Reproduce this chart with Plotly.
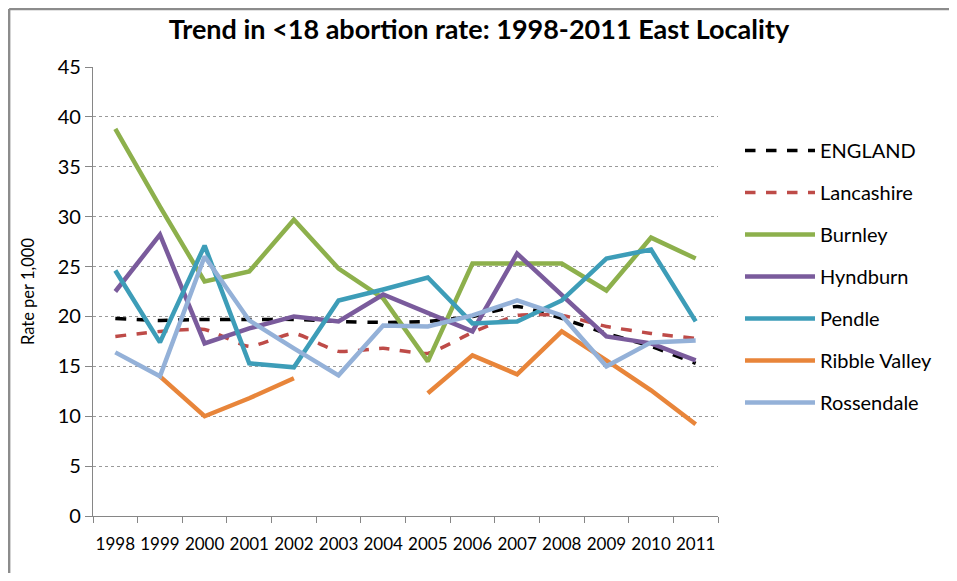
import plotly.graph_objects as go

years = ["1998", "1999", "2000", "2001", "2002", "2003", "2004",
         "2005", "2006", "2007", "2008", "2009", "2010", "2011"]

england = [19.8, 19.6, 19.7, 19.7, 19.7, 19.5, 19.4, 19.5, 20.0, 21.0, 19.8, 18.3, 17.0, 15.3]
lancashire = [18.0, 18.5, 18.7, 17.0, 18.3, 16.5, 16.8, 16.3, 18.4, 20.1, 20.1, 19.0, 18.3, 17.8]
burnley = [38.8, 31.0, 23.5, 24.5, 29.7, 24.8, 21.8, 15.5, 25.3, 25.3, 25.3, 22.6, 27.9, 25.8]
hyndburn = [22.5, 28.2, 17.3, 18.8, 20.0, 19.5, 22.2, 20.4, 18.5, 26.3, 22.1, 18.0, 17.3, 15.6]
pendle = [24.6, 17.4, 27.1, 15.3, 14.9, 21.6, 22.7, 23.9, 19.3, 19.5, 21.6, 25.8, 26.7, 19.5]
ribble_valley = [None, 14.0, 10.0, 11.8, 13.8, None, None, 12.3, 16.1, 14.2, 18.5, 15.6, 12.6, 9.2]
rossendale = [16.4, 14.0, 26.0, 19.6, 16.8, 14.1, 19.1, 19.0, 20.1, 21.6, 20.1, 15.0, 17.4, 17.6]

y_ticks = [0, 5, 10, 15, 20, 25, 30, 35, 40, 45]

series = [
    ("ENGLAND", england, "#000000", "dash", 3.5, True),
    ("Lancashire", lancashire, "#BE4B48", "dash", 3.5, True),
    ("Burnley", burnley, "#8DB04C", "solid", 4.5, False),
    ("Hyndburn", hyndburn, "#7A5B9C", "solid", 4.5, False),
    ("Pendle", pendle, "#3D9DB8", "solid", 4.5, False),
    ("Ribble Valley", ribble_valley, "#E8853A", "solid", 4.5, False),
    ("Rossendale", rossendale, "#94B1D8", "solid", 4.5, False),
]

FONT = "Lato"

# page body has an 8px margin: figure is placed at (8, 8); keep it inside the window
W, H = 941, 565
PL, PT, PR, PB = 85, 59, 711, 508   # plot area in figure pixels

fig = go.Figure()
for i, (name, vals, color, dash, w, smooth) in enumerate(series):
    fig.add_trace(go.Scatter(
        x=years, y=vals, name=name, mode="lines",
        line=dict(color=color, dash=dash, width=w,
                  shape="spline" if smooth else "linear",
                  smoothing=0.5 if smooth else None),
        connectgaps=False, legendgroup=str(i),
    ))

fig.update_layout(
    width=W, height=H,
    margin=dict(l=PL, r=W - PR, t=PT, b=H - PB),
    paper_bgcolor="white", plot_bgcolor="white",
    font=dict(family=FONT, color="#000000"),
    title=dict(text="<b>Trend in &lt;18 abortion rate: 1998-2011 East Locality</b>",
               x=(479 - 8) / W, xref="container", xanchor="center",
               y=1 - 22 / H, yref="container", yanchor="middle",
               font=dict(family=FONT, size=27, color="#000000")),
    showlegend=True,
    legend=dict(x=(732 - PL) / (PR - PL), xanchor="left",
                y=1 - (123 - PT) / (PB - PT), yanchor="top",
                font=dict(family=FONT, size=20, color="#000000"),
                tracegroupgap=13, itemwidth=70,
                bgcolor="rgba(0,0,0,0)"),
)

fig.update_xaxes(
    type="category", range=[-0.5, 13.5],
    showline=True, linecolor="#868686", linewidth=1.3,
    ticks="outside", tickson="boundaries", ticklen=6, tickcolor="#868686",
    showgrid=False, tickangle=0, ticklabelstandoff=12,
    tickfont=dict(family=FONT, size=17, color="#000000"),
    fixedrange=True,
)
fig.update_yaxes(
    range=[0, 45], tickvals=y_ticks,
    showline=True, linecolor="#868686", linewidth=1.3,
    ticks="outside", ticklen=7, tickcolor="#868686",
    showgrid=True, gridcolor="#9A9A9A", griddash="dot", gridwidth=1,
    zeroline=False,
    tickfont=dict(family=FONT, size=20, color="#000000"),
    title=dict(text="Rate per 1,000", font=dict(family=FONT, size=16.5, color="#000000"),
               standoff=18),
)

# chart outer border (top and left edges visible in the source image)
fig.add_shape(type="line", xref="paper", yref="paper",
              x0=-(PL - 1) / (PR - PL), x1=1.5,
              y0=1 + (PT - 1) / (PB - PT), y1=1 + (PT - 1) / (PB - PT),
              line=dict(color="#8C8C8C", width=2.5))
fig.add_shape(type="line", xref="paper", yref="paper",
              x0=-(PL - 1) / (PR - PL), x1=-(PL - 1) / (PR - PL),
              y0=1 + (PT - 1) / (PB - PT), y1=-0.3,
              line=dict(color="#8C8C8C", width=2.5))

fig.write_html("out.html", config={"displayModeBar": False})
